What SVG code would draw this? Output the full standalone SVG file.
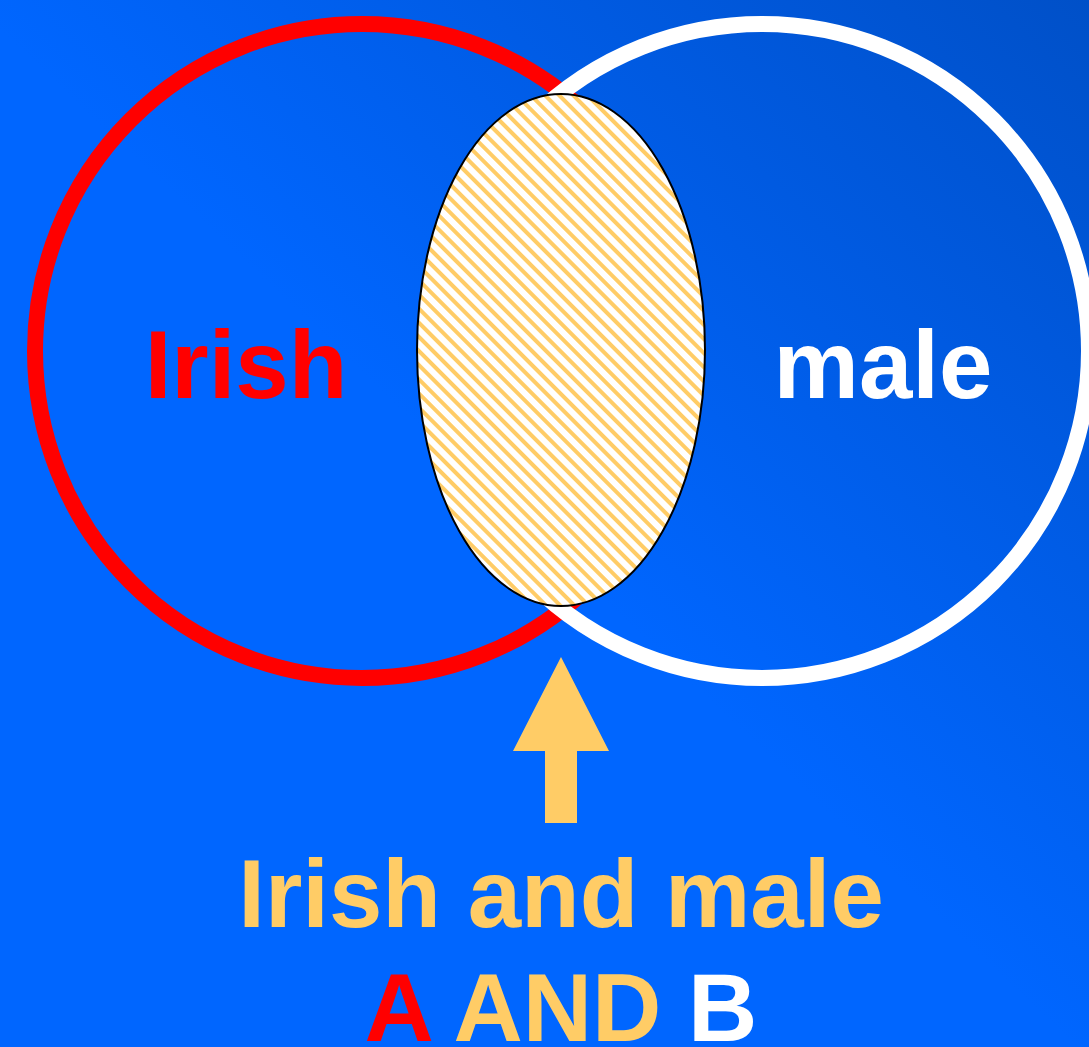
<svg xmlns="http://www.w3.org/2000/svg" width="1089" height="1047" viewBox="0 0 1089 1047">
  <defs>
    <linearGradient id="bg" gradientUnits="userSpaceOnUse" x1="1089" y1="0" x2="560" y2="560">
      <stop offset="0" stop-color="#0050c8"/>
      <stop offset="1" stop-color="#0066ff"/>
    </linearGradient>
    <pattern id="hatch" patternUnits="userSpaceOnUse" width="10" height="10" patternTransform="rotate(45)">
      <rect width="10" height="10" fill="#ffffff"/>
      <rect y="0" width="10" height="4" fill="#ffcc66"/>
    </pattern>
    <style>
      .lbl { font-family: "Liberation Sans", Arial, sans-serif; font-weight: bold; font-size: 96px; text-anchor: middle; }
    </style>
  </defs>
  <rect width="1089" height="1047" fill="url(#bg)"/>
  <g id="setA">
    <circle cx="362" cy="351" r="327" fill="none" stroke="#ff0000" stroke-width="16"/>
  </g>
  <g id="setB">
    <circle cx="762" cy="351" r="327" fill="none" stroke="#ffffff" stroke-width="16"/>
  </g>
  <g id="intersection">
    <ellipse cx="561" cy="350" rx="144" ry="256" fill="url(#hatch)" stroke="#000000" stroke-width="2"/>
  </g>
  <g id="connectors">
    <polygon points="561,657 609,751 577,751 577,823 545,823 545,751 513,751" fill="#ffcc66"/>
  </g>
  <g id="labelA">
    <text class="lbl" x="246" y="398" fill="#ff0000">Irish</text>
  </g>
  <g id="labelB">
    <text class="lbl" x="883" y="398" fill="#ffffff">male</text>
  </g>
  <g id="caption">
    <text class="lbl" x="561" y="927" fill="#ffcc66">Irish and male</text>
    <text class="lbl" x="561" y="1041"><tspan fill="#ff0000">A</tspan><tspan fill="#ffcc66"> AND </tspan><tspan fill="#ffffff">B</tspan></text>
  </g>
</svg>
